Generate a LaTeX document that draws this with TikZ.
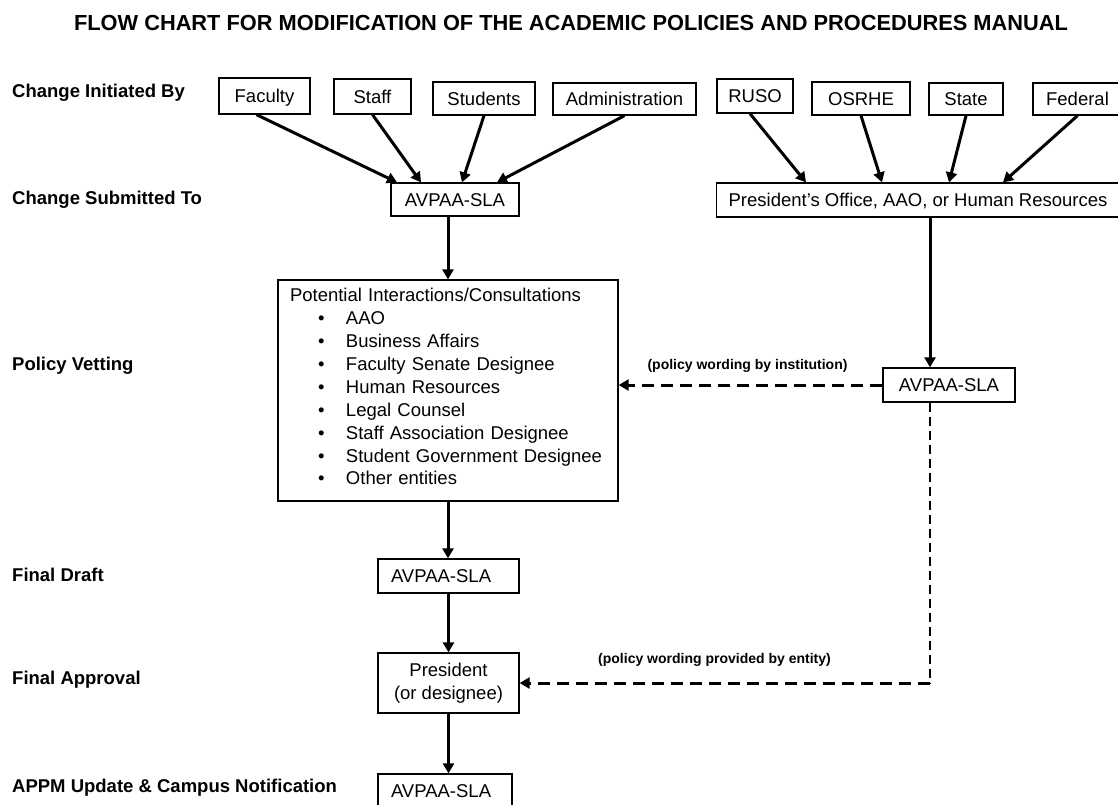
\documentclass[tikz,border=0pt]{standalone}
\usepackage{fontspec}
\setmainfont{Liberation Sans}
\usetikzlibrary{arrows.meta,positioning}

\begin{document}
\begin{tikzpicture}[
  x=1pt, y=-1pt,
  frame/.style={draw, line width=1.3pt, rectangle, font=\fontsize{18.5}{22.7}\selectfont},
  box/.style={frame, minimum height=33pt, inner sep=0pt, text height=13.3pt, text depth=0pt},
  rowlabel/.style={anchor=base west, inner sep=0pt, font=\fontsize{18.5}{22.7}\selectfont\bfseries},
  note/.style={inner sep=0pt, font=\fontsize{14}{16}\selectfont\bfseries},
  arrow/.style={-{Triangle[length=10pt,width=11pt]}, line width=3pt},
  dasharrow/.style={arrow, dash pattern=on 12pt off 7pt},
  thindash/.style={line width=1.3pt, dash pattern=on 9pt off 5pt}
]
\useasboundingbox (0,0) rectangle (1118,804);

\node[anchor=base, font=\fontsize{21.8}{24}\selectfont\bfseries] (title) at (571,30.7) {FLOW CHART FOR MODIFICATION OF THE ACADEMIC POLICIES AND PROCEDURES MANUAL};

\node[rowlabel] (initiated) at (12,97) {Change Initiated By};
\node[rowlabel] (submitted) at (12,204) {Change Submitted To};
\node[rowlabel] (vetting) at (12,370) {Policy Vetting};
\node[rowlabel] (draft) at (12,581) {Final Draft};
\node[rowlabel] (approval) at (12,684.3) {Final Approval};
\node[rowlabel] (update) at (12,792.3) {APPM Update \& Campus Notification};

% who starts the change
\node[box, minimum width=91pt, minimum height=36pt] (fac) at (264.5,96) {Faculty};
\node[box, minimum width=77pt, minimum height=35pt] (stf) at (372.5,96.5) {Staff};
\node[box, minimum width=102pt] (stu) at (484,98.5) {Students};
\node[box, minimum width=143pt, minimum height=32pt] (adm) at (624.5,99) {Administration};
\node[box, minimum width=76pt, minimum height=34pt] (ruso) at (755,96) {RUSO};
\node[box, minimum width=98pt] (osr) at (861,98.5) {OSRHE};
\node[box, minimum width=74pt, minimum height=32pt] (sta) at (966,99) {State};
\node[box, minimum width=89pt, minimum height=32pt] (fed) at (1077.5,99) {Federal};

% where it goes
\node[box, minimum width=128pt] (avp1) at (455,199.5) {AVPAA-SLA};
\node[box, minimum width=403pt, minimum height=34pt] (pres) at (918,200) {President's Office, AAO, or Human Resources};

\node[frame, minimum width=340pt, inner xsep=12pt, inner ysep=8.2pt, text width=316pt, text height=13.5pt, text depth=191pt, align=left, font=\fontsize{18.5}{22.9}\selectfont] (pot) at (448,390.5) {%
  Potential Interactions/Consultations\\
  \hspace*{28pt}\makebox[28pt][l]{\textbullet}AAO\\
  \hspace*{28pt}\makebox[28pt][l]{\textbullet}Business Affairs\\
  \hspace*{28pt}\makebox[28pt][l]{\textbullet}Faculty Senate Designee\\
  \hspace*{28pt}\makebox[28pt][l]{\textbullet}Human Resources\\
  \hspace*{28pt}\makebox[28pt][l]{\textbullet}Legal Counsel\\
  \hspace*{28pt}\makebox[28pt][l]{\textbullet}Staff Association Designee\\
  \hspace*{28pt}\makebox[28pt][l]{\textbullet}Student Government Designee\\
  \hspace*{28pt}\makebox[28pt][l]{\textbullet}Other entities};

\node[box, minimum width=132pt, minimum height=34pt] (avp2) at (949,385) {AVPAA-SLA};
\node[box, minimum height=34pt, inner xsep=13pt, text width=115pt, align=left] (avp3) at (448.5,576) {AVPAA-SLA};
\node[frame, minimum width=141pt, minimum height=60pt, inner sep=0pt, align=center] (presi) at (448.5,683) {President\\(or designee)};
\node[box, minimum height=34pt, inner xsep=13pt, text width=108pt, align=left] (avp4) at (445,791) {AVPAA-SLA};

\node[note] (wordinst) at (747.5,366) {(policy wording by institution)};
\node[note] (wordent) at (714.5,660) {(policy wording provided by entity)};

\coordinate (drop) at (930,0);
\coordinate (turn) at (drop |- presi.east);

\draw[arrow] ([xshift=-8pt]fac.south) -- ([xshift=-58pt]avp1.north);
\draw[arrow] (stf.south) -- ([xshift=-34pt]avp1.north);
\draw[arrow] (stu.south) -- ([xshift=7pt]avp1.north);
\draw[arrow] (adm.south) -- ([xshift=42pt]avp1.north);
\draw[arrow] ([xshift=-5pt]ruso.south) -- ([xshift=-112pt]pres.north);
\draw[arrow] (osr.south) -- ([xshift=-36pt]pres.north);
\draw[arrow] (sta.south) -- ([xshift=31pt]pres.north);
\draw[arrow] (fed.south) -- ([xshift=85pt]pres.north);

\draw[arrow] (avp1.south -| pot.north) -- (pot.north);
\draw[arrow] (pot.south) -- (pot.south |- avp3.north);
\draw[arrow] (avp3.south) -- (presi.north);
\draw[arrow] (presi.south) -- (presi.south |- avp4.north);
\draw[arrow] (pres.south -| drop) -- (avp2.north -| drop);

\draw[dasharrow] (avp2.west) -- (avp2.west -| pot.east);
\draw[thindash] (avp2.south -| drop) -- (turn);
\draw[dasharrow] (turn) -- (presi.east);
\end{tikzpicture}
\end{document}
